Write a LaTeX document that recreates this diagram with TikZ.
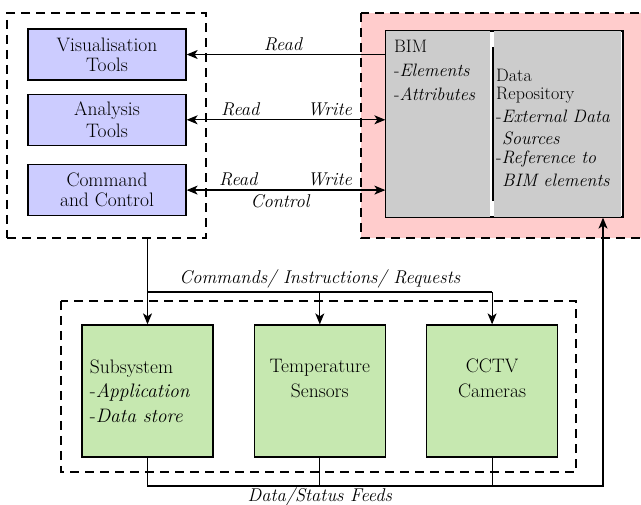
\documentclass[tikz,border=0pt]{standalone}
\usetikzlibrary{positioning,calc,arrows.meta}

\definecolor{toolblue}{RGB}{204,204,255}
\definecolor{bimpink}{RGB}{255,204,204}
\definecolor{bimgray}{RGB}{204,204,204}
\definecolor{subgreen}{RGB}{198,232,176}

\tikzset{
  toolbox/.style={draw,line width=1.3pt,fill=toolblue,minimum width=158pt,minimum height=51pt,align=center,inner sep=0pt},
  subbox/.style={draw,line width=1.3pt,fill=subgreen,minimum width=131pt,minimum height=132pt,align=center,inner sep=0pt},
  grpbox/.style={draw,line width=1.4pt,dash pattern=on 9pt off 6pt},
  link/.style={line width=1.2pt},
  arr/.style={link,-{Stealth[length=11pt,width=9pt,inset=3pt]}},
  darr/.style={link,{Stealth[length=11pt,width=9pt,inset=3pt]}-{Stealth[length=11pt,width=9pt,inset=3pt]}},
  lbl/.style={font=\fontsize{18.5}{20}\selectfont\itshape},
  bimtext/.style={anchor=north west,align=left,inner sep=0pt,font=\fontsize{18}{20}\selectfont}
}

\begin{document}
\begin{tikzpicture}[x=1pt,y=-1pt,font=\fontsize{19.5}{20}\selectfont]
    \useasboundingbox (0,0) rectangle (641,505);

    % Tools group
    \node[grpbox,minimum width=199pt,minimum height=225pt] (tools) at (106.5,125.5) {};
    \node[toolbox] (vis) at (107,54.5) {Visualisation\\Tools};
    \node[toolbox,below=13pt of vis] (ana) {Analysis\\[2pt]Tools};
    \node[toolbox,below=18pt of ana] (cmd) {Command\\and Control};

    % BIM group
    \draw[grpbox,fill=bimpink] (361,13) rectangle (650,238);
    \node[draw,line width=1.3pt,fill=white,minimum width=237pt,minimum height=186pt,inner sep=0pt] (bim) at (504.5,124) {};
    \fill[bimgray] (bim.north west) rectangle (490,217);
    \fill[bimgray] (494,31) rectangle (621,217);
    \draw[line width=1.3pt] (bim.north west) rectangle (bim.south east);
    \draw[line width=1.3pt] (493,47) -- (493,201);
    \node[bimtext] at (394,40) {BIM\\[4pt]-\textit{Elements}\\[4pt]-\textit{Attributes}};
    \node[bimtext] at (496,69) {Data\\[-2pt]Repository\\[3pt]-\textit{External Data}\\[2pt]\hspace{6pt}\textit{Sources}\\[-1pt]-\textit{Reference to}\\[3pt]\hspace{6pt}\textit{BIM elements}};

    % Read / write links
    \draw[arr] (bim.west |- vis) -- (vis.east) node[lbl,above,pos=0.515] {Read};
    \draw[darr] (ana.east) -- (bim.west |- ana) node[lbl,above,pos=0.27] {Read} node[lbl,above,pos=0.72] {Write};
    \draw[darr] (cmd.east) -- (bim.west |- cmd) node[lbl,above,pos=0.26] {Read} node[lbl,above,pos=0.72] {Write} node[lbl,below,pos=0.47] {Control};

    % Subsystems
    \draw[grpbox] (61,301) rectangle (576,472);
    \node[subbox] (sub) at (147.5,391) {};
    \node[anchor=west,align=left] at ($(sub.west)+(5,0)$) {Subsystem\\[4.5pt]-\textit{Application}\\[4.5pt]-\textit{Data store}};
    \node[subbox,right=40pt of sub] (temp) {Temperature\\[5pt]Sensors\\[6pt]};
    \node[subbox,right=40pt of temp] (cctv) {CCTV\\[5pt]Cameras\\[6pt]};

    % Commands bus
    \coordinate (cmdbus) at (0,292);
    \draw[link] (tools.south -| sub) -- (sub |- cmdbus) -- (cctv |- cmdbus) node[lbl,above,midway] {Commands/ Instructions/ Requests};
    \draw[arr] (sub |- cmdbus) -- (sub.north);
    \draw[arr] (temp |- cmdbus) -- (temp.north);
    \draw[arr] (cctv |- cmdbus) -- (cctv.north);

    % Feeds bus
    \coordinate (feedbus) at (0,486);
    \coordinate (feedup) at (603,486);
    \draw[arr] (sub.south) -- (sub |- feedbus) -- (feedup) -- (feedup |- bim.south);
    \draw[link] (temp.south) -- (temp |- feedbus) node[lbl,below,inner sep=1.5pt] {Data/Status Feeds};
    \draw[link] (cctv.south) -- (cctv |- feedbus);
\end{tikzpicture}
\end{document}
